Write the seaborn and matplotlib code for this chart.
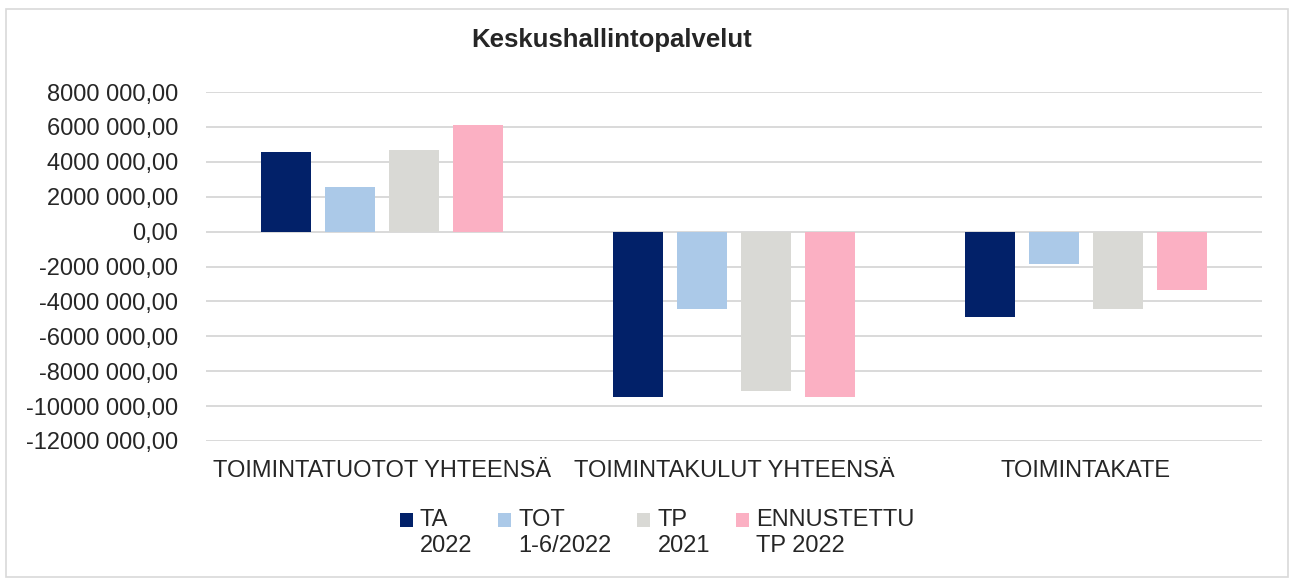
import pandas as pd
import matplotlib.pyplot as plt
import matplotlib.ticker as mticker
from matplotlib.patches import Rectangle
from matplotlib.legend_handler import HandlerPatch
import seaborn as sns

# data
categories = ['TOIMINTATUOTOT YHTEENSÄ', 'TOIMINTAKULUT YHTEENSÄ', 'TOIMINTAKATE']
series_names = ['TA\n2022', 'TOT\n1-6/2022', 'TP\n2021', 'ENNUSTETTU\nTP 2022']
ta_2022 = [4580000, -9490000, -4900000]
tot_2022 = [2550000, -4460000, -1870000]
tp_2021 = [4650000, -9150000, -4460000]
ennuste_2022 = [6110000, -9490000, -3350000]
colors = ['#022169', '#abc9e8', '#d9d9d5', '#fbb0c3']


class TopSquareHandler(HandlerPatch):
    """Legend square aligned with the first line of a two-line label"""
    def create_artists(self, legend, orig_handle, xdescent, ydescent,
                       width, height, fontsize, trans):
        shift = 0.55 * fontsize
        p = Rectangle((-xdescent, -ydescent + shift), width, height,
                      facecolor=orig_handle.get_facecolor(), edgecolor='none',
                      transform=trans)
        return [p]


def build_frame():
    """Long format table for seaborn"""
    rows = []
    for name, vals in zip(series_names, [ta_2022, tot_2022, tp_2021, ennuste_2022]):
        for cat, v in zip(categories, vals):
            rows.append({'category': cat, 'series': name, 'value': v})
    return pd.DataFrame(rows)


def fmt_value(v, pos):
    if abs(v) < 1:
        return '0,00'
    return f'{int(round(v / 1000))} 000,00'


def main():
    df = build_frame()

    sns.set_style('white')
    plt.rcParams['font.family'] = ['Liberation Sans', 'DejaVu Sans']

    fig = plt.figure(figsize=(12.92, 5.79), dpi=100)
    ax = fig.add_axes([206 / 1292, 1 - 441 / 579, 1056 / 1292, 349 / 579])

    sns.barplot(data=df, x='category', y='value', hue='series', palette=colors,
                width=0.727, gap=0.22, saturation=1, linewidth=0, ax=ax)

    handles, labels = ax.get_legend_handles_labels()
    if ax.get_legend() is not None:
        ax.get_legend().remove()

    ax.set_ylim(-12000000, 8000000)
    ax.set_yticks(range(-12000000, 8000001, 2000000))
    ax.yaxis.set_major_formatter(mticker.FuncFormatter(fmt_value))
    ax.grid(axis='y', color='#d9d9d9', linewidth=1.4)
    ax.set_axisbelow(True)
    for s in ax.spines.values():
        s.set_visible(False)
    ax.tick_params(axis='y', length=0, pad=20, labelsize=17)
    ax.tick_params(axis='x', length=0, pad=14, labelsize=17)
    ax.set_xlabel('')
    ax.set_ylabel('')

    fig.text(612 / 1292, 1 - 40 / 579, 'Keskushallintopalvelut', ha='center', va='center',
             fontsize=18.5, fontweight='bold')

    handler = TopSquareHandler()
    fig.legend(handles, labels, loc='center', bbox_to_anchor=(657 / 1292, 1 - 533 / 579),
               ncol=4, frameon=False, fontsize=17, handlelength=0.55, handleheight=0.55,
               handletextpad=0.3, columnspacing=1.1, labelspacing=0.1,
               handler_map={h: handler for h in handles})

    # light frame around the whole chart
    fig.patches.append(Rectangle((6 / 1292, 2 / 579), 1282 / 1292, 568 / 579,
                                 transform=fig.transFigure, fill=False,
                                 edgecolor='#d9d9d9', linewidth=1.2))

    fig.savefig('out.png', dpi=100)


if __name__ == '__main__':
    main()
